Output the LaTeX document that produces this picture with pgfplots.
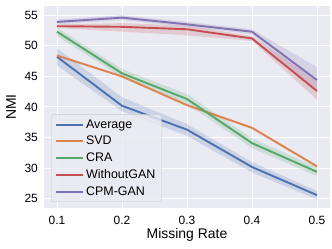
\documentclass[border=0pt]{standalone}
\usepackage{fontspec}
\setmainfont{Liberation Sans}
\usepackage{pgfplots}
\pgfplotsset{compat=1.18}
\usepgfplotslibrary{fillbetween}
\definecolor{sbblue}{HTML}{4C72B0}
\definecolor{sborange}{HTML}{DD8452}
\definecolor{sbgreen}{HTML}{55A868}
\definecolor{sbred}{HTML}{C44E52}
\definecolor{sbpurple}{HTML}{8172B3}
\definecolor{sbbg}{HTML}{EAEAF2}
\begin{document}
\begin{tikzpicture}
\begin{axis}[
  at={(44bp,41bp)}, anchor=south west,
  scale only axis, width=286bp, height=202bp,
  xmin=0.08, xmax=0.52, ymin=23.5, ymax=56.5,
  xtick={0.1,0.2,0.3,0.4,0.5}, ytick={25,30,35,40,45,50,55},
  axis background/.style={fill=sbbg},
  axis line style={draw=none},
  major tick length=0pt,
  grid=major, grid style={white, line width=1bp},
  font=\fontsize{12}{14}\selectfont,
  /pgf/number format/assume math mode=true,
  xticklabel style={/pgf/number format/fixed, /pgf/number format/zerofill, /pgf/number format/precision=1, anchor=north, inner sep=0pt, yshift=-8bp},
  yticklabel style={anchor=east, inner sep=0pt, xshift=-6bp},
  xlabel={Missing Rate}, ylabel={NMI},
  xlabel style={at={(axis description cs:0.5,-0.134)}, anchor=center, font=\fontsize{14}{16}\selectfont},
  ylabel style={at={(axis description cs:-0.115,0.5)}, anchor=center, font=\fontsize{14}{16}\selectfont},
  legend style={at={(0.0245,0.03)}, anchor=south west, draw=black!20, fill=sbbg, fill opacity=0.8, text opacity=1, rounded corners=2bp, font=\fontsize{12.5}{15}\selectfont, row sep=2.5bp, inner xsep=4bp, inner ysep=3bp},
  legend cell align=left,
  legend image code/.code={\draw[#1] (0bp,0bp) -- (27bp,0bp);},
  every axis plot/.append style={line width=1.9bp},
]
% bands
\addplot[name path=bu, draw=none, forget plot] coordinates {(0.1,49.6)(0.2,41.6)(0.3,37.2)(0.4,31.0)(0.5,26.3)};
\addplot[name path=bl, draw=none, forget plot] coordinates {(0.1,46.8)(0.2,39.3)(0.3,35.3)(0.4,29.3)(0.5,24.9)};
\addplot[sbblue, fill opacity=0.2, forget plot] fill between[of=bu and bl];
\addplot[name path=ou, draw=none, forget plot] coordinates {(0.1,48.6)(0.2,45.2)(0.3,40.5)(0.4,36.8)(0.5,30.5)};
\addplot[name path=ol, draw=none, forget plot] coordinates {(0.1,48.2)(0.2,44.8)(0.3,40.1)(0.4,36.4)(0.5,30.1)};
\addplot[sborange, fill opacity=0.2, forget plot] fill between[of=ou and ol];
\addplot[name path=gu, draw=none, forget plot] coordinates {(0.1,53.0)(0.2,46.2)(0.3,42.1)(0.4,34.9)(0.5,30.1)};
\addplot[name path=gl, draw=none, forget plot] coordinates {(0.1,51.6)(0.2,44.8)(0.3,40.5)(0.4,33.3)(0.5,28.7)};
\addplot[sbgreen, fill opacity=0.2, forget plot] fill between[of=gu and gl];
\addplot[name path=ru, draw=none, forget plot] coordinates {(0.1,53.5)(0.2,53.7)(0.3,53.3)(0.4,51.6)(0.5,44.3)};
\addplot[name path=rl, draw=none, forget plot] coordinates {(0.1,52.9)(0.2,52.3)(0.3,51.7)(0.4,50.8)(0.5,41.2)};
\addplot[sbred, fill opacity=0.2, forget plot] fill between[of=ru and rl];
\addplot[name path=pu, draw=none, forget plot] coordinates {(0.1,54.3)(0.2,55.0)(0.3,53.9)(0.4,52.7)(0.5,46.5)};
\addplot[name path=pl, draw=none, forget plot] coordinates {(0.1,53.5)(0.2,54.2)(0.3,53.1)(0.4,51.9)(0.5,42.5)};
\addplot[sbpurple, fill opacity=0.2, forget plot] fill between[of=pu and pl];
% lines
\addplot[sbblue] coordinates {(0.1,48.2)(0.2,40.2)(0.3,36.3)(0.4,30.2)(0.5,25.6)};
\addlegendentry{Average}
\addplot[sborange] coordinates {(0.1,48.4)(0.2,45.0)(0.3,40.3)(0.4,36.6)(0.5,30.3)};
\addlegendentry{SVD}
\addplot[sbgreen] coordinates {(0.1,52.3)(0.2,45.5)(0.3,41.3)(0.4,34.1)(0.5,29.4)};
\addlegendentry{CRA}
\addplot[sbred] coordinates {(0.1,53.2)(0.2,53.1)(0.3,52.7)(0.4,51.2)(0.5,42.6)};
\addlegendentry{WithoutGAN}
\addplot[sbpurple] coordinates {(0.1,53.9)(0.2,54.6)(0.3,53.5)(0.4,52.3)(0.5,44.4)};
\addlegendentry{CPM-GAN}
\end{axis}
\pgfresetboundingbox
\path[use as bounding box] (0bp,0bp) rectangle (332bp,249bp);
\end{tikzpicture}
\end{document}
